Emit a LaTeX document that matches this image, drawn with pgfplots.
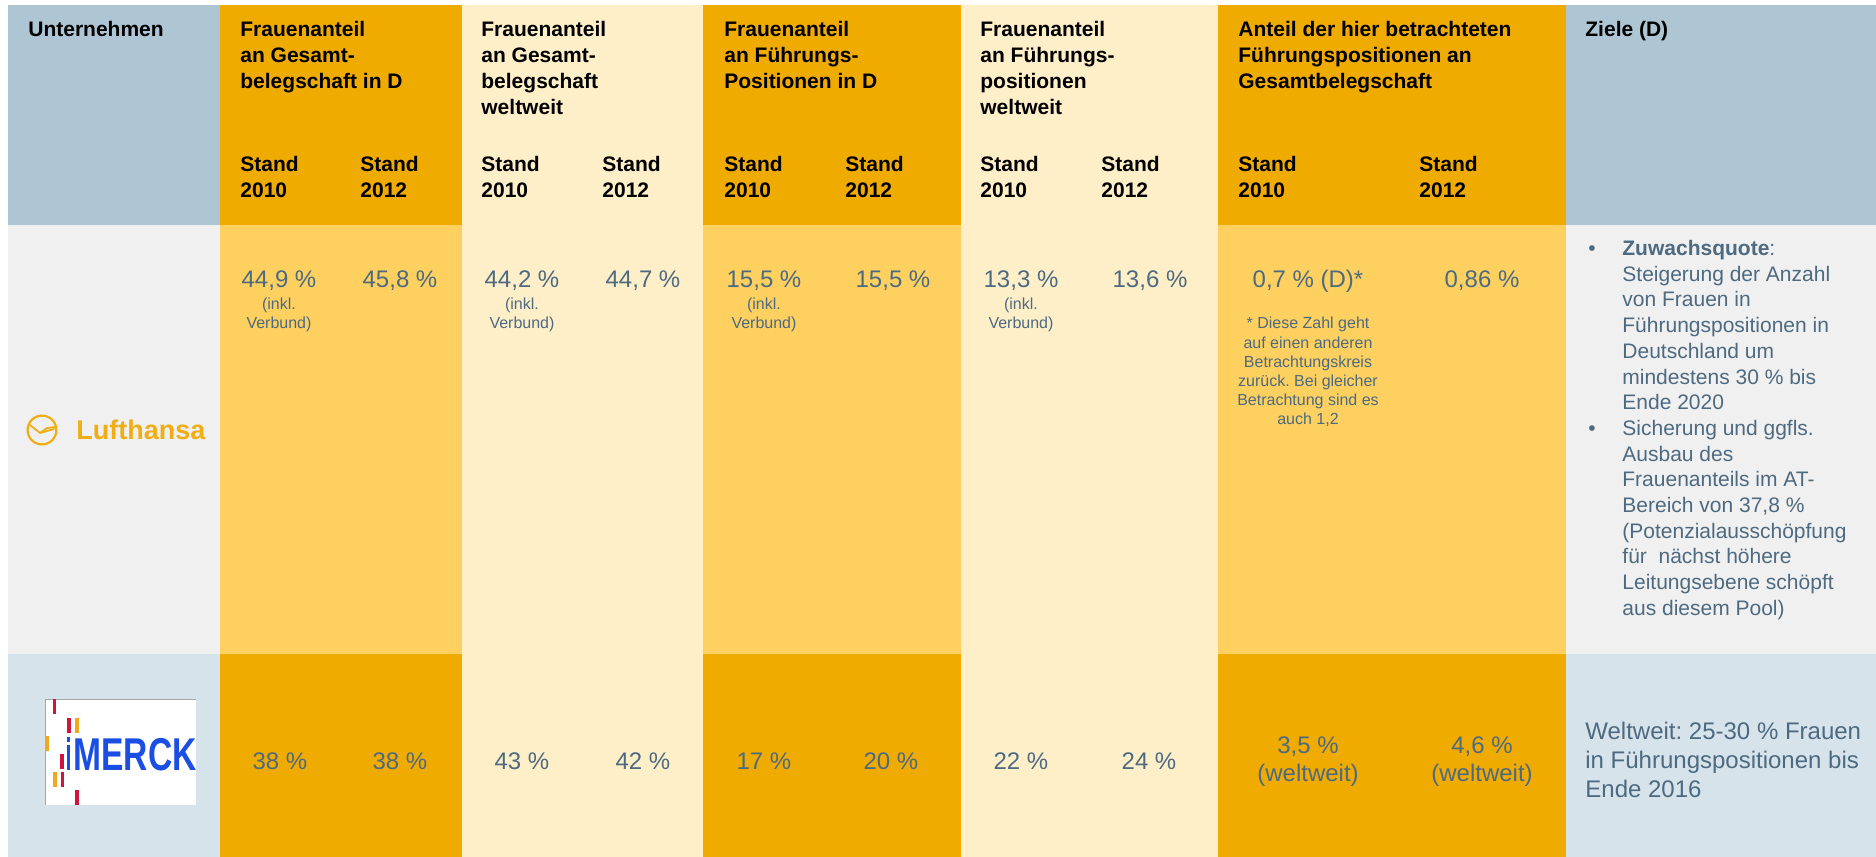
\documentclass[border=0pt]{standalone}
\usepackage{pgfplots}
\pgfplotsset{compat=1.18}
\usepackage{fontspec}
\setmainfont{Liberation Sans}
\frenchspacing

\definecolor{hblue}{HTML}{AEC5D3}
\definecolor{dorange}{HTML}{F0AB00}
\definecolor{cream}{HTML}{FEEFC9}
\definecolor{lorange}{HTML}{FED05F}
\definecolor{lgray}{HTML}{F0F0F0}
\definecolor{lblue}{HTML}{D6E3EB}
\definecolor{txt}{HTML}{4D6A81}
\definecolor{lhgold}{HTML}{F0AE14}
\definecolor{mblue}{HTML}{1B4FE3}
\definecolor{mred}{HTML}{D3123E}
\definecolor{morange}{HTML}{F2A81C}

\tikzset{
  hd/.style={anchor=base west, inner sep=0pt, text=black,
    font=\fontsize{10.5}{12}\selectfont\bfseries},
  val/.style={anchor=base, inner sep=0pt, text=txt,
    font=\fontsize{12}{14}\selectfont},
  sm/.style={anchor=base, inner sep=0pt, text=txt,
    font=\fontsize{8}{9.5}\selectfont},
  zl/.style={anchor=base west, inner sep=0pt, text=txt,
    font=\fontsize{10.5}{12}\selectfont},
}

% one table cell: x0, x1, y0, y1, colour (pixel coordinates, y downwards)
\newcommand{\cell}[5]{\addplot[draw=none,fill=#5] coordinates {(#1,#3) (#2,#3) (#2,#4) (#1,#4)} -- cycle;}
\newcommand{\hd}[3]{\node[hd] at (axis cs:#1,#2) {#3};}
\newcommand{\stand}[2]{\hd{#1}{171}{Stand}\hd{#1}{197}{#2}}
\newcommand{\va}[3]{\node[val] at (axis cs:#1,#2) {#3};}
\newcommand{\sm}[3]{\node[sm] at (axis cs:#1,#2) {#3};}
\newcommand{\inkl}[1]{\sm{#1}{309}{(inkl.}\sm{#1}{328}{Verbund)}}
\newcommand{\zl}[2]{\node[zl] at (axis cs:1622,#1) {#2};}

\begin{document}
\begin{tikzpicture}
\begin{axis}[
  scale only axis, width=938pt, height=428.5pt,
  xmin=0, xmax=1876, ymin=0, ymax=857, y dir=reverse,
  hide axis, clip=false, no markers,
]
% page background
\cell{0}{1876}{0}{857}{white}

% header row
\cell{8}{220}{5}{225}{hblue}
\cell{220}{462}{5}{225}{dorange}
\cell{462}{703}{5}{225}{cream}
\cell{703}{961}{5}{225}{dorange}
\cell{961}{1218}{5}{225}{cream}
\cell{1218}{1566}{5}{225}{dorange}
\cell{1566}{1876}{5}{225}{hblue}
% Lufthansa row
\cell{8}{220}{225}{654}{lgray}
\cell{220}{462}{225}{654}{lorange}
\cell{462}{703}{225}{654}{cream}
\cell{703}{961}{225}{654}{lorange}
\cell{961}{1218}{225}{654}{cream}
\cell{1218}{1566}{225}{654}{lorange}
\cell{1566}{1876}{225}{654}{lgray}
% Merck row
\cell{8}{220}{654}{857}{lblue}
\cell{220}{462}{654}{857}{dorange}
\cell{462}{703}{654}{857}{cream}
\cell{703}{961}{654}{857}{dorange}
\cell{961}{1218}{654}{857}{cream}
\cell{1218}{1566}{654}{857}{dorange}
\cell{1566}{1876}{654}{857}{lblue}

% header text
\hd{28}{36}{Unternehmen}
\hd{240}{36}{Frauenanteil}
\hd{240}{62}{an Gesamt-}
\hd{240}{88}{belegschaft in D}
\hd{481}{36}{Frauenanteil}
\hd{481}{62}{an Gesamt-}
\hd{481}{88}{belegschaft}
\hd{481}{114}{weltweit}
\hd{724}{36}{Frauenanteil}
\hd{724}{62}{an Führungs-}
\hd{724}{88}{Positionen in D}
\hd{980}{36}{Frauenanteil}
\hd{980}{62}{an Führungs-}
\hd{980}{88}{positionen}
\hd{980}{114}{weltweit}
\hd{1238}{36}{Anteil der hier betrachteten}
\hd{1238}{62}{Führungspositionen an}
\hd{1238}{88}{Gesamtbelegschaft}
\hd{1585}{36}{Ziele (D)}
\stand{240}{2010}\stand{360}{2012}
\stand{481}{2010}\stand{602}{2012}
\stand{724}{2010}\stand{845}{2012}
\stand{980}{2010}\stand{1101}{2012}
\stand{1238}{2010}\stand{1419}{2012}

% Lufthansa values
\va{279}{287}{44,9 \%}
\va{400}{287}{45,8 \%}
\va{522}{287}{44,2 \%}
\va{643}{287}{44,7 \%}
\va{764}{287}{15,5 \%}
\va{893}{287}{15,5 \%}
\va{1021}{287}{13,3 \%}
\va{1150}{287}{13,6 \%}
\va{1308}{287}{0,7 \% (D)*}
\va{1482}{287}{0,86 \%}
\inkl{279}\inkl{522}\inkl{764}\inkl{1021}
\sm{1308}{328}{* Diese Zahl geht}
\sm{1308}{348}{auf einen anderen}
\sm{1308}{367}{Betrachtungskreis}
\sm{1308}{386}{zurück. Bei gleicher}
\sm{1308}{405}{Betrachtung sind es}
\sm{1308}{424}{auch 1,2}

% Lufthansa goals
\node[zl, anchor=base] at (axis cs:1592,255.5) {•};
\node[zl, anchor=base] at (axis cs:1592,435.4) {•};
\zl{255.5}{\textbf{Zuwachsquote}:}
\zl{281.2}{Steigerung der Anzahl}
\zl{306.9}{von Frauen in}
\zl{332.6}{Führungspositionen in}
\zl{358.3}{Deutschland um}
\zl{384.0}{mindestens 30 \% bis}
\zl{409.7}{Ende 2020}
\zl{435.4}{Sicherung und ggfls.}
\zl{461.1}{Ausbau des}
\zl{486.8}{Frauenanteils im AT-}
\zl{512.5}{Bereich von 37,8 \%}
\zl{538.2}{(Potenzialausschöpfung}
\zl{563.9}{für\ \ nächst höhere}
\zl{589.6}{Leitungsebene schöpft}
\zl{615.3}{aus diesem Pool)}

% Merck values
\va{280}{769}{38 \%}
\va{400}{769}{38 \%}
\va{522}{769}{43 \%}
\va{643}{769}{42 \%}
\va{764}{769}{17 \%}
\va{891}{769}{20 \%}
\va{1021}{769}{22 \%}
\va{1149}{769}{24 \%}
\va{1308}{753}{3,5 \%}
\va{1308}{781}{(weltweit)}
\va{1482}{753}{4,6 \%}
\va{1482}{781}{(weltweit)}

% Merck goal
\node[val, anchor=base west] at (axis cs:1585,739) {Weltweit: 25-30 \% Frauen};
\node[val, anchor=base west] at (axis cs:1585,768) {in Führungspositionen bis};
\node[val, anchor=base west] at (axis cs:1585,797) {Ende 2016};

% Lufthansa logo
\draw[lhgold, line width=1.1pt] (axis cs:42,430) circle[radius=7.2pt];
\draw[lhgold, line width=0.9pt, line join=round, line cap=round]
  (axis cs:30,425) -- (axis cs:40,433) -- (axis cs:54,429);
\draw[lhgold, line width=0.9pt, line join=round, line cap=round]
  (axis cs:40,433) -- (axis cs:47,428) -- (axis cs:55,427);
\node[anchor=base west, inner sep=0pt, text=lhgold, font=\fontsize{13.5}{15}\selectfont\bfseries]
  at (axis cs:76,439) {Lufthansa};

% Merck logo
\cell{45}{196}{699}{805}{white}
\draw[gray!70, line width=0.4pt] (axis cs:45,805) -- (axis cs:45,699) -- (axis cs:196,699);
\node[anchor=base west, inner sep=0pt, text=mblue, font=\fontsize{23}{25}\selectfont\bfseries]
  at (axis cs:73,770) {\scalebox{0.73}[1]{MERCK}};
\cell{67}{70}{745}{770}{mblue}
\cell{67}{70}{737}{742}{mblue}
\cell{53}{56}{699}{714}{mred}
\cell{67}{71}{718}{733}{mred}
\cell{75}{79}{718}{733}{morange}
\cell{45}{49}{736}{751}{morange}
\cell{60}{64}{754}{769}{mred}
\cell{53}{57}{772}{787}{morange}
\cell{61}{64}{772}{787}{mred}
\cell{75}{79}{790}{805}{mred}
\end{axis}
\end{tikzpicture}
\end{document}
